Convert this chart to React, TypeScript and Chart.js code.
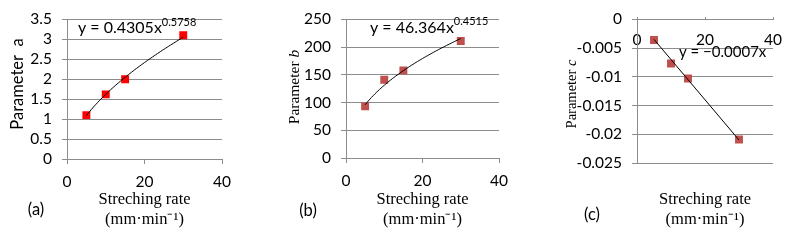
import React, { useEffect, useRef } from 'react';
import { Chart, registerables } from 'chart.js';
Chart.register(...registerables);

// ---- data ----
const rateX = [5, 10, 15, 30];
const paramA = [1.1, 1.62, 2.0, 3.1];
const paramB = [93, 141, 158, 211];
const paramC = [-0.0036, -0.0077, -0.0103, -0.0209];
const fitA = [0.4305, 0.5758]; // y = k * x^p
const fitB = [46.364, 0.4515]; // y = k * x^p
const fitC = [-0.0007]; // y = m * x
const xTicks = [0, 20, 40];
const yTicksA = [0, 0.5, 1, 1.5, 2, 2.5, 3, 3.5];
const yTicksB = [0, 50, 100, 150, 200, 250];
const yTicksC = [-0.025, -0.02, -0.015, -0.01, -0.005, 0];
const xTitle = ['Streching rate', '(mm·min⁻¹)'];
const eqA = ['y = 0.4305x', '0.5758'];
const eqB = ['y = 46.364x', '0.4515'];
const eqC = ['y = −0.0007x'];
const panelLabels = ['(a)', '(b)', '(c)'];

// ---- styles ----
const GRID = '#8c8c8c';
const SANS = 'Lato';
const SERIF = '"Liberation Serif"';
const tickFont = { family: SANS, size: 15.5 };

type Part = { t: string; font: string; dy?: number };
type Label = { parts: Part[]; x: number; y: number; rotate?: boolean; align?: 'left' | 'center' };

function textPlugin(items: Label[]) {
  return {
    id: 'texts',
    afterDraw(chart: any) {
      const ctx = chart.ctx as CanvasRenderingContext2D;
      for (const lb of items) {
        ctx.save();
        ctx.translate(lb.x, lb.y);
        if (lb.rotate) ctx.rotate(-Math.PI / 2);
        let w = 0;
        for (const p of lb.parts) {
          ctx.font = p.font;
          w += ctx.measureText(p.t).width;
        }
        let x = lb.align === 'left' ? 0 : -w / 2;
        ctx.fillStyle = '#000';
        ctx.textBaseline = 'middle';
        ctx.textAlign = 'left';
        for (const p of lb.parts) {
          ctx.font = p.font;
          ctx.fillText(p.t, x, p.dy || 0);
          x += ctx.measureText(p.t).width;
        }
        ctx.restore();
      }
    },
  };
}

function powerFit(fit: number[]) {
  const pts: { x: number; y: number }[] = [];
  const x0 = rateX[0];
  const x1 = rateX[rateX.length - 1];
  const n = 60;
  for (let i = 0; i <= n; i++) {
    const x = x0 + ((x1 - x0) * i) / n;
    pts.push({ x, y: fit[0] * Math.pow(x, fit[1]) });
  }
  return pts;
}

function linearFit(fit: number[]) {
  const x0 = rateX[0];
  const x1 = rateX[rateX.length - 1];
  return [
    { x: x0, y: fit[0] * x0 },
    { x: x1, y: fit[0] * x1 },
  ];
}

function yScale(ticks: number[], width: number) {
  return {
    type: 'linear',
    min: ticks[0],
    max: ticks[ticks.length - 1],
    afterBuildTicks: (s: any) => {
      s.ticks = ticks.map((v) => ({ value: v }));
    },
    afterFit: (s: any) => {
      s.width = width;
    },
    grid: { color: GRID, lineWidth: 1, drawTicks: true, tickLength: 5, tickColor: GRID },
    border: { display: true, color: GRID, width: 1 },
    ticks: {
      font: tickFont,
      color: '#000',
      padding: 10,
      autoSkip: false,
      callback: (v: any) => String(v),
    },
  };
}

function xTitleOpts() {
  return {
    display: true,
    text: xTitle,
    font: { family: SERIF, size: 16.5, lineHeight: '20px' },
    color: '#000',
    padding: 0,
  };
}

function xBottomScale(height: number) {
  return {
    type: 'linear',
    position: 'bottom',
    min: xTicks[0],
    max: xTicks[xTicks.length - 1],
    afterBuildTicks: (s: any) => {
      s.ticks = xTicks.map((v) => ({ value: v }));
    },
    afterFit: (s: any) => {
      s.height = height;
    },
    grid: { drawOnChartArea: false, drawTicks: true, tickLength: 5, color: GRID },
    border: { display: true, color: GRID, width: 1 },
    ticks: {
      font: tickFont,
      color: '#000',
      padding: 9,
      autoSkip: false,
      maxRotation: 0,
      callback: (v: any) => String(v),
    },
    title: xTitleOpts(),
  };
}

function datasets(values: number[], color: string, fitPts: { x: number; y: number }[]) {
  return [
    {
      label: 'fit',
      data: fitPts,
      showLine: true,
      borderColor: '#000',
      borderWidth: 1,
      pointRadius: 0,
      fill: false,
      tension: 0,
    },
    {
      label: 'data',
      data: rateX.map((x, i) => ({ x, y: values[i] })),
      showLine: false,
      pointStyle: 'rect',
      pointRadius: 5.6,
      pointBackgroundColor: color,
      backgroundColor: color,
      borderWidth: 0,
      pointBorderWidth: 0,
    },
  ];
}

const baseOptions = {
  responsive: false,
  animation: false,
  events: [],
  plugins: { legend: { display: false }, tooltip: { enabled: false }, title: { display: false } },
};

function buildA(): any {
  return {
    type: 'scatter',
    data: { datasets: datasets(paramA, '#ff0000', powerFit(fitA)) },
    options: {
      ...baseOptions,
      layout: { padding: { left: 0, right: 43, top: 17, bottom: 12 } },
      scales: { x: xBottomScale(71), y: yScale(yTicksA, 67) },
    },
    plugins: [
      textPlugin([
        { parts: [{ t: 'Parameter  a', font: `16.5px ${SANS}` }], x: 18, y: 84, rotate: true },
        {
          parts: [
            { t: eqA[0], font: `16px ${SANS}` },
            { t: eqA[1], font: `11px ${SANS}`, dy: -6 },
          ],
          x: 78,
          y: 28,
          align: 'left',
        },
        { parts: [{ t: panelLabels[0], font: `16.5px ${SANS}` }], x: 36, y: 210 },
      ]),
    ],
  };
}

function buildB(): any {
  return {
    type: 'scatter',
    data: { datasets: datasets(paramB, '#c0504d', powerFit(fitB)) },
    options: {
      ...baseOptions,
      layout: { padding: { left: 0, right: 31, top: 17, bottom: 12 } },
      scales: { x: xBottomScale(72), y: yScale(yTicksB, 81) },
    },
    plugins: [
      textPlugin([
        {
          parts: [
            { t: 'Parameter ', font: `15.5px ${SERIF}` },
            { t: 'b', font: `italic 15.5px ${SERIF}` },
          ],
          x: 30,
          y: 87,
          rotate: true,
        },
        {
          parts: [
            { t: eqB[0], font: `16px ${SANS}` },
            { t: eqB[1], font: `11px ${SANS}`, dy: -7 },
          ],
          x: 105,
          y: 28,
          align: 'left',
        },
        { parts: [{ t: panelLabels[1], font: `16.5px ${SANS}` }], x: 43, y: 211 },
      ]),
    ],
  };
}

function buildC(): any {
  return {
    type: 'scatter',
    data: { datasets: datasets(paramC, '#c0504d', linearFit(fitC)) },
    options: {
      ...baseOptions,
      layout: { padding: { left: 0, right: 21, top: 13, bottom: 12 } },
      scales: {
        x: {
          type: 'linear',
          position: { y: 0 },
          min: xTicks[0],
          max: xTicks[xTicks.length - 1],
          afterBuildTicks: (s: any) => {
            s.ticks = xTicks.map((v) => ({ value: v }));
          },
          grid: { drawOnChartArea: false, drawTicks: true, tickLength: -3, color: GRID },
          border: { display: true, color: GRID, width: 1 },
          ticks: {
            font: tickFont,
            color: '#000',
            padding: 14,
            autoSkip: false,
            maxRotation: 0,
            callback: (v: any) => String(v),
          },
        },
        x2: {
          type: 'linear',
          position: 'bottom',
          afterFit: (s: any) => {
            s.height = 67;
          },
          grid: { display: false },
          border: { display: false },
          ticks: { display: false },
          title: xTitleOpts(),
        },
        y: yScale(yTicksC, 107),
      },
    },
    plugins: [
      textPlugin([
        {
          parts: [
            { t: 'Parameter ', font: `14.5px ${SERIF}` },
            { t: 'c', font: `italic 14.5px ${SERIF}` },
          ],
          x: 42,
          y: 94,
          rotate: true,
        },
        { parts: [{ t: eqC[0], font: `15px ${SANS}` }], x: 149, y: 52, align: 'left' },
        { parts: [{ t: panelLabels[2], font: `16.5px ${SANS}` }], x: 62, y: 215 },
      ]),
    ],
  };
}

function Panel({ left, width, build }: { left: number; width: number; build: () => any }) {
  const ref = useRef<HTMLCanvasElement>(null);
  useEffect(() => {
    const chart = new Chart(ref.current as HTMLCanvasElement, build());
    return () => chart.destroy();
  }, []);
  return (
    <canvas
      ref={ref}
      width={width}
      height={242}
      style={{ position: 'absolute', left, top: 0, width, height: 242, display: 'block' }}
    />
  );
}

export default function App() {
  return (
    <div
      style={{
        position: 'absolute',
        left: 0,
        top: 0,
        width: 796,
        height: 242,
        background: '#fff',
        overflow: 'hidden',
      }}
    >
      <Panel left={0} width={265} build={buildA} />
      <Panel left={265} width={265} build={buildB} />
      <Panel left={530} width={266} build={buildC} />
    </div>
  );
}
